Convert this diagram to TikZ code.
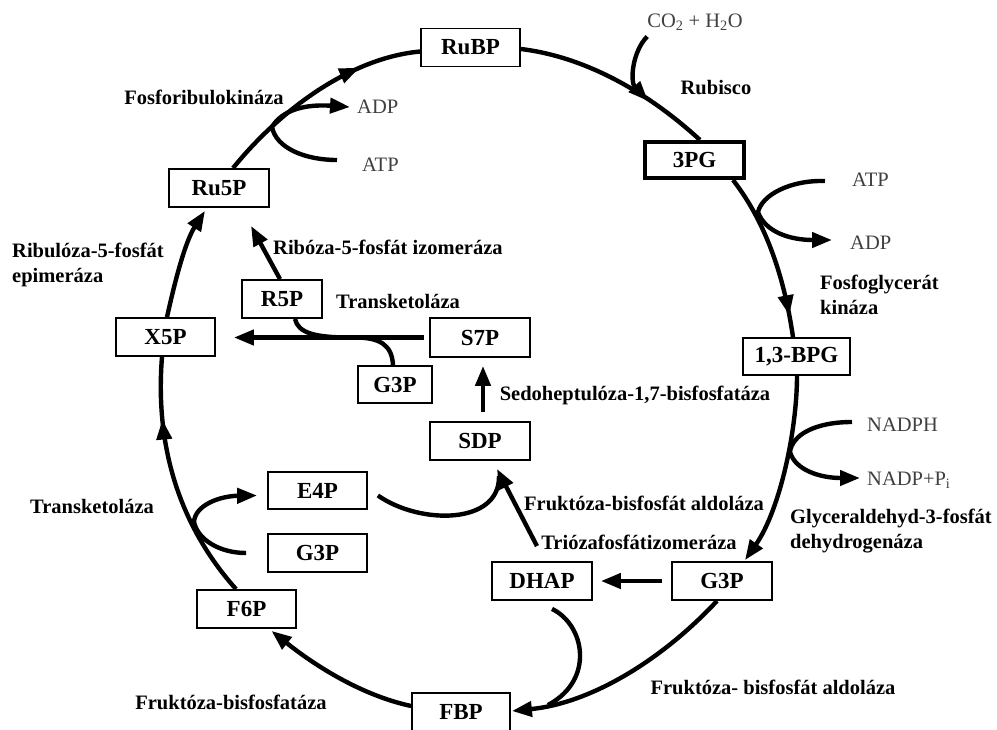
\documentclass[tikz,border=0pt]{standalone}
\usepackage{fontspec}
\setmainfont{Liberation Serif}
\usetikzlibrary{arrows.meta,decorations.markings,calc}
\begin{document}
\begin{tikzpicture}[x=1pt,y=-1pt,
  >={Triangle[length=20pt,width=15pt]},
  box/.style={draw,line width=1.8pt,minimum width=99pt,minimum height=38pt,inner sep=0pt,font=\fontsize{23}{27}\selectfont\bfseries},
  enz/.style={font=\fontsize{20.5}{24.5}\selectfont\bfseries,inner sep=0pt},
  reag/.style={font=\fontsize{20.5}{24.5}\selectfont,text=black!75,inner sep=0pt},
  flow/.style={line width=4.4pt},
  midarrow/.style={postaction={decorate,decoration={markings,mark=at position #1 with {\arrow{>}}}}},
]
\fill[white] (0,0) rectangle (997,729);
\useasboundingbox (0,0) rectangle (997,729);

% boxes
\node[box] (RuBP) at (470.5,47.5) {RuBP};
\node[box,minimum width=100pt] (Ru5P) at (219,188) {Ru5P};
\node[box] (X5P) at (165.5,337) {X5P};
\node[box,minimum width=80pt] (R5P) at (282,299) {R5P};
\node[box,minimum width=100pt,minimum height=39pt] (S7P) at (480,337.5) {S7P};
\node[box,minimum width=74pt,minimum height=37pt] (G3Pm) at (395,384.5) {G3P};
\node[box,minimum width=100pt] (SDP) at (480,441) {SDP};
\node[box,minimum height=37pt] (E4P) at (317.5,490.5) {E4P};
\node[box] (G3Pl) at (317.5,553) {G3P};
\node[box] (F6P) at (246.5,609) {F6P};
\node[box,minimum width=98pt] (FBP) at (461,712) {FBP};
\node[box,minimum width=100pt] (DHAP) at (542,581) {DHAP};
\node[box,minimum width=100pt] (G3Pr) at (722,581) {G3P};
\node[box,minimum width=107pt,minimum height=37pt] (BPG) at (796.5,356.5) {1,3-BPG};
\node[box,line width=4pt,minimum width=99pt,minimum height=36pt] (PG3) at (694.5,160) {3PG};

% labels
\node[enz] (kFRK) at (204,97) {Fosforibulokináza};
\node[reag,anchor=west] (ADPa) at (357,107) {ADP};
\node[reag,anchor=west] (ATPa) at (362,165) {ATP};
\node[reag] (co2) at (695,22) {CO\textsubscript{2} + H\textsubscript{2}O};
\node[enz] (rub) at (716,88) {Rubisco};
\node[reag,anchor=west] (ATPb) at (852,180) {ATP};
\node[reag,anchor=west] (ADPb) at (850,243) {ADP};
\node[enz,anchor=west,align=left] (pgk) at (820,295) {Fosfoglycerát\\kináza};
\node[reag,anchor=west] (nadph) at (867,425) {NADPH};
\node[reag,anchor=west] (nadp) at (867,480) {NADP+P\textsubscript{i}};
\node[enz,anchor=west,align=left] (gapdh) at (790,531) {Glyceraldehyd-3-fosfát\\dehydrogenáza};
\node[enz] (fba2) at (773,687) {Fruktóza- bisfosfát aldoláza};
\node[enz] (tpi) at (639,542) {Triózafosfátizomeráza};
\node[enz] (fba1) at (644,503) {Fruktóza-bisfosfát aldoláza};
\node[enz] (sbp) at (635,395) {Sedoheptulóza-1,7-bisfosfatáza};
\node[enz] (tk1) at (398,301) {Transketoláza};
\node[enz,anchor=west] (rpi) at (273,247) {Ribóza-5-fosfát izomeráza};
\node[enz,anchor=west,align=left] (rpe) at (12,265) {Ribulóza-5-fosfát\\epimeráza};
\node[enz] (tk2) at (92,506) {Transketoláza};
\node[enz] (fbpase) at (231,702) {Fruktóza-bisfosfatáza};

% join points
\coordinate (jA) at (272,127);
\coordinate (jB) at (648,101);
\coordinate (jC) at (758,212);
\coordinate (jD) at (790,452);
\coordinate (jE) at (548,705);
\coordinate (jG) at (194,522);
\coordinate (jS1) at (350,337.5);
\coordinate (jS2) at (355,337.5);
\coordinate (jSDP) at (499,476);

% main cycle
\draw[flow,->] ($(X5P.north)+(1.5,0)$) .. controls (175,281) and (185,242) .. ($(Ru5P.south)+(-14,3)$);
\draw[flow,midarrow=0.72] ($(Ru5P.north)+(14,0)$) .. controls (280,110) and (350,58) .. ($(RuBP.west)+(0,4)$);
\draw[flow] ($(RuBP.east)+(0,1.5)$) .. controls (587,57) and (650,94) .. ($(PG3.north)+(5.5,0)$);
\draw[flow,midarrow=0.87] ($(PG3.south)+(38.5,0)$) .. controls (768,225) and (785,282) .. ($(BPG.north)+(-3.5,0)$);
\draw[flow,->] ($(BPG.south)+(0.5,0)$) .. controls (797,430) and (780,510) .. ($(G3Pr.north)+(23,-1)$);
\draw[flow,->] ($(G3Pr.south)+(-5,0)$) .. controls (663,659) and (592,703) .. ($(FBP.east)+(1,-1)$);
\draw[flow,->] ($(FBP.west)+(0,-6)$) .. controls (360,695) and (313,664) .. ($(F6P.south)+(25,2)$);
\draw[flow,midarrow=0.75] ($(F6P.north)+(-10.5,0)$) .. controls (178,524) and (155,444) .. ($(X5P.south)+(-3.5,0)$);

% side branches
\draw[flow,->] ($(ATPa.west)+(-25,-5)$) .. controls (305,160) and (276,148) .. (jA) .. controls (282,110) and (305,104) .. ($(ADPa.west)+(-7,0)$);
\draw[flow,->] ($(co2.south west)+(0,6)$) .. controls (632,52) and (630,82) .. (jB);
\draw[flow,->] ($(ATPb.west)+(-27,1)$) .. controls (790,180) and (762,195) .. (jC) .. controls (765,232) and (790,240) .. ($(ADPb.west)+(-18,-3)$);
\draw[flow,->] ($(nadph.west)+(-15,-3)$) .. controls (815,422) and (792,435) .. (jD) .. controls (795,470) and (820,478) .. ($(nadp.west)+(-7,-2)$);
\draw[flow] ($(DHAP.south)+(10,8)$) .. controls (585,625) and (595,680) .. (jE);
\draw[flow,->] ($(G3Pr.west)+(-9,0)$) -- ($(DHAP.east)+(8,0)$);
\draw[flow,->] ($(G3Pl.west)+(-21,0)$) .. controls (220,553) and (198,540) .. (jG) .. controls (195,505) and (220,496) .. ($(E4P.west)+(-10,5)$);

% inner pathway
\draw[flow,->] ($(R5P.north)+(-2,0)$) -- ($(Ru5P.south)+(32,18)$);
\draw[flow,->] ($(S7P.west)+(-5,0)$) -- ($(X5P.east)+(18,0.5)$);
\draw[flow] ($(R5P.south)+(13,0)$) .. controls (298,333) and (315,337.5) .. (jS1);
\draw[flow] ($(G3Pm.north)+(-2,0)$) .. controls (392,345) and (380,337.5) .. (jS2);
\draw[flow,->] ($(SDP.north)+(3,-9)$) -- ($(S7P.south)+(3,8)$);
\draw[flow] ($(E4P.east)+(10,5)$) .. controls (420,525) and (500,525) .. (jSDP);
\draw[flow,->] ($(DHAP.north)+(-5,-15)$) -- ($(SDP.south)+(17,8)$);
\end{tikzpicture}
\end{document}
